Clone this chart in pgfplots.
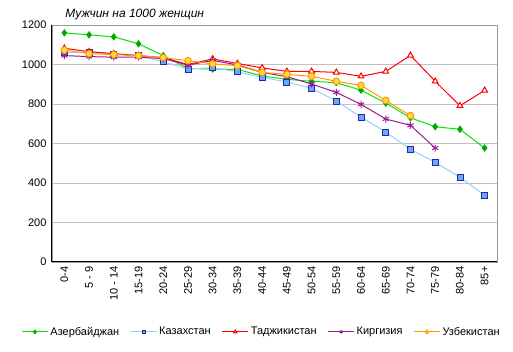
\documentclass[border=0pt]{standalone}
\usepackage{pgfplots}
\pgfplotsset{compat=1.18}
\usepackage{fontspec}
\setmainfont{Liberation Sans}
\definecolor{azg}{RGB}{0,230,0}
\definecolor{azgd}{RGB}{0,170,0}
\definecolor{kzl}{RGB}{153,204,255}
\definecolor{kzf}{RGB}{102,170,255}
\definecolor{kzd}{RGB}{40,40,150}
\definecolor{tjr}{RGB}{255,0,0}
\definecolor{kgp}{RGB}{150,30,150}
\definecolor{uzo}{RGB}{255,153,0}
\definecolor{uzy}{RGB}{255,220,60}
\definecolor{gridc}{RGB}{192,192,192}
\begin{document}
\begin{tikzpicture}
\begin{axis}[
  name=ax,
  scale only axis,
  width=445pt, height=237pt,
  xmin=-0.5, xmax=17.5, ymin=0, ymax=1200,
  xtick={0,...,17},
  xticklabels={0-4,5 - 9,10 - 14,15-19,20-24,25-29,30-34,35-39,40-44,45-49,50-54,55-59,60-64,65-69,70-74,75-79,80-84,85+},
  ytick={0,200,...,1200},
  ymajorgrids, grid style={gridc, line width=0.8pt},
  axis line style={draw=gray!80},
  tick style={draw=none},
  /pgf/number format/assume math mode=true,
  /pgf/number format/1000 sep={},
  yticklabel style={font=\fontsize{11}{13}\selectfont, xshift=-2pt},
  xticklabel style={font=\fontsize{11}{13}\selectfont, rotate=90, anchor=east, xshift=-1pt},
  clip=false,
  legend style={at={(0.471,-0.295)}, anchor=center, draw=none, font=\fontsize{11}{13}\selectfont,
    legend columns=5, /tikz/every even column/.append style={column sep=9pt},
    nodes={inner xsep=2pt}},
  legend image code/.code={\draw[mark repeat=2,mark phase=2,#1,mark size=1.8pt] plot coordinates {(0pt,0pt)(13pt,0pt)(26pt,0pt)};},
  legend cell align=left,
]
\addplot[azg, line width=1pt, mark=diamond*, mark size=3pt, mark options={fill=azgd, draw=azgd}] coordinates {
(0,1160)(1,1150)(2,1140)(3,1105)(4,1045)(5,980)(6,977)(7,975)(8,942)(9,925)(10,915)(11,908)(12,870)(13,805)(14,730)(15,685)(16,672)(17,577)};
\addlegendentry{Азербайджан}
\addplot[kzl, line width=1pt, mark=square*, mark size=3pt, mark options={fill=kzf, draw=kzd, line width=0.8pt}] coordinates {
(0,1060)(1,1062)(2,1052)(3,1045)(4,1014)(5,977)(6,984)(7,963)(8,935)(9,911)(10,879)(11,815)(12,734)(13,658)(14,570)(15,505)(16,429)(17,338)};
\addlegendentry{Казахстан}
\addplot[tjr, line width=1pt, mark=triangle*, mark size=3.3pt, mark options={fill=white, draw=tjr}] coordinates {
(0,1082)(1,1065)(2,1055)(3,1045)(4,1035)(5,1000)(6,1028)(7,1005)(8,983)(9,965)(10,965)(11,960)(12,940)(13,965)(14,1046)(15,915)(16,791)(17,869)};
\addlegendentry{Таджикистан}
\addplot[kgp, line width=1pt, mark=asterisk, mark size=3.5pt, mark options={draw=kgp}] coordinates {
(0,1045)(1,1040)(2,1037)(3,1037)(4,1030)(5,997)(6,1020)(7,998)(8,960)(9,938)(10,901)(11,859)(12,798)(13,724)(14,692)(15,577)};
\addlegendentry{Киргизия}
\addplot[uzo, line width=1pt, mark=*, mark size=3.3pt, mark options={fill=uzy, draw=uzo}] coordinates {
(0,1073)(1,1055)(2,1050)(3,1045)(4,1035)(5,1019)(6,1003)(7,994)(8,960)(9,950)(10,940)(11,915)(12,894)(13,818)(14,741)};
\addlegendentry{Узбекистан}
\draw[black, line width=1pt] (rel axis cs:0,1) -- (rel axis cs:0,0) -- (rel axis cs:1,0);
\node[anchor=west, font=\fontsize{12}{14}\selectfont\itshape] at ([yshift=10pt]rel axis cs:0.022,1) {Мужчин на 1000 женщин};
\end{axis}
\path (ax.south west) ++(-52pt,-90pt) rectangle ++(513pt,352pt);
\end{tikzpicture}
\end{document}
